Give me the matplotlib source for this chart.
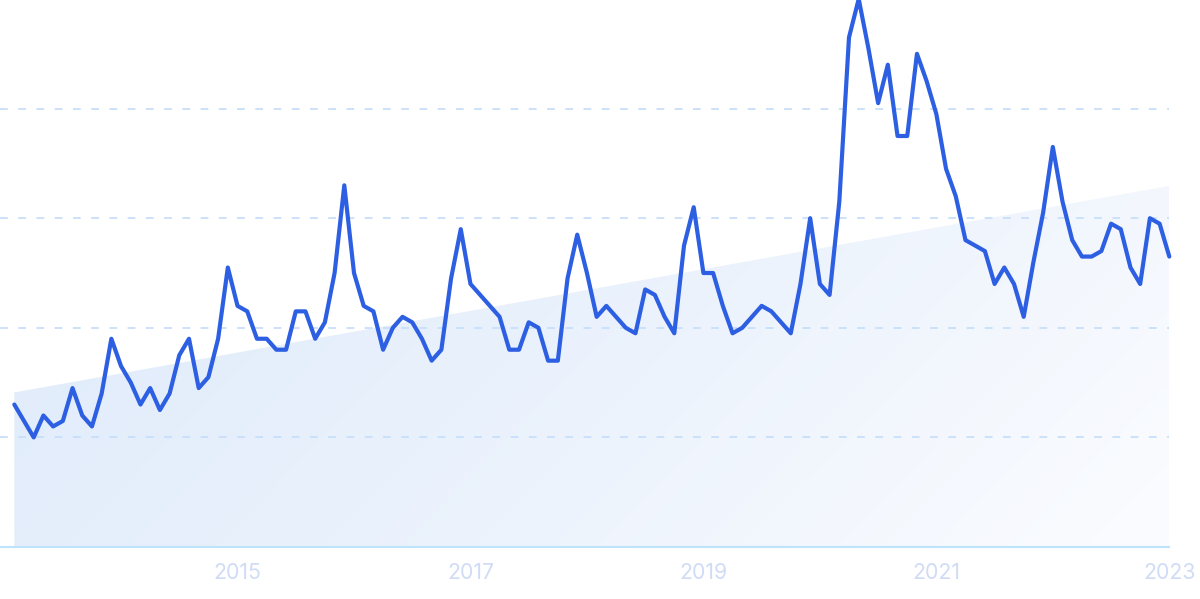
import matplotlib
matplotlib.use("Agg")
import matplotlib.pyplot as plt
import numpy as np
from matplotlib.patches import Polygon
from matplotlib.colors import LinearSegmentedColormap

# Monthly interest, Feb 2013 .. Jan 2023
values = [26,23,20,24,22,23,29,24,22,28,
          38,33,30,26,29,25,28,35,38,29,
          31,38,51,44,43,38,38,36,36,43,
          43,38,41,50,66,50,44,43,36,40,
          42,41,38,34,36,49,58,48,46,44,
          42,36,36,41,40,34,34,49,57,50,
          42,44,42,40,39,47,46,42,39,55,
          62,50,50,44,39,40,42,44,43,41,
          39,48,60,48,46,63,93,100,91,81,
          88,75,75,90,85,79,69,64,56,55,
          54,48,51,48,42,52,61,73,63,56,
          53,53,54,59,58,51,48,60,59,53]
trend_start = 28.2
trend_end = 65.9
tick_labels = ["2015", "2017", "2019", "2021", "2023"]
tick_months = [23, 47, 71, 95, 119]
grid_levels = [20, 40, 60, 80, 100]

W, H = 1200, 599
fig = plt.figure(figsize=(W / 100, H / 100), dpi=100)
n = len(values)
x = np.arange(n)

left_px, right_px = 0.0, 1169.3
bottom_px, top_px = 547.0, -1.0
ax = fig.add_axes([left_px / W, (H - bottom_px) / H,
                   (right_px - left_px) / W, (bottom_px - top_px) / H])
ax.set_xlim(-14.3 / 9.708, n - 1)
ax.set_ylim(0, 100)
ax.axis("off")

# gridlines
for g in grid_levels:
    ax.axhline(g, color="#c8dffa", lw=1.3, ls=(0, (4.3, 5.8)), zorder=1, clip_on=False)
ax.axhline(0, color="#bde4fb", lw=1.5, zorder=1, clip_on=False)

# gradient-filled trend area
poly = Polygon([[0, 0], [0, trend_start], [n - 1, trend_end], [n - 1, 0]],
               closed=True, facecolor="none", edgecolor="none")
ax.add_patch(poly)
cmap = LinearSegmentedColormap.from_list("g", ["#dce9fa", "#e9f1fc", "#fbfcff"])
gx = np.linspace(0, 1, 300)
gy = np.linspace(0, 1, 150)
GX, GY = np.meshgrid(gx, gy)
grad = 0.75 * GX + 0.35 * (1 - GY)
grad = grad / grad.max()
im = ax.imshow(grad, extent=[0, n - 1, 100, 0], cmap=cmap, aspect="auto",
               interpolation="bicubic", zorder=0, vmin=0, vmax=1)
im.set_clip_path(poly)
ax.set_xlim(-14.3 / 9.708, n - 1)
ax.set_ylim(0, 100)

# main line
ax.plot(x, values, color="#2d5fe3", lw=3.0, solid_joinstyle="round",
        solid_capstyle="round", zorder=3, clip_on=False)

# tick labels
for m, lab in zip(tick_months, tick_labels):
    ax.text(m, -4.8, lab, ha="center", va="center", fontsize=15.3,
            family="Inter", color="#d0dbf5", clip_on=False)

fig.savefig("out.png", dpi=100)
